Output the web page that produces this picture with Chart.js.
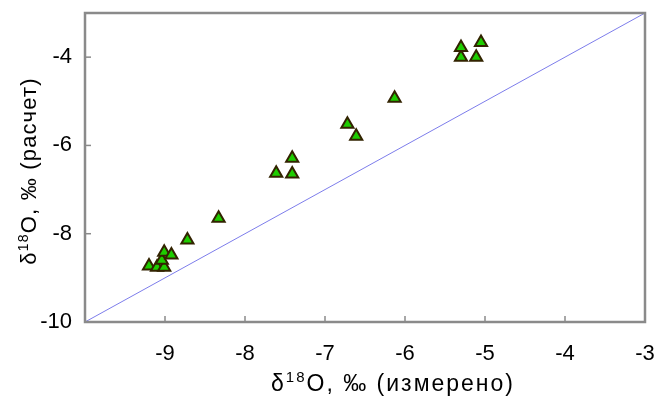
<!DOCTYPE html>
<html>
<head>
<meta charset="utf-8">
<script src="https://cdn.jsdelivr.net/npm/chart.js@4/dist/chart.umd.min.js"></script>
<style>
  html, body { margin: 0; padding: 0; background: #fff; }
  #wrap { width: 654px; height: 396px; }
</style>
</head>
<body>
<div id="wrap"><canvas id="myChart"></canvas></div>
<script>
// measured vs calculated δ18O, ‰
const measured = [-9.20, -9.10, -9.01, -9.04, -9.01, -8.92, -8.72, -8.33,
  -7.61, -7.41, -7.41, -6.72, -6.61, -6.13, -5.30, -5.30, -5.11, -5.05];
const calculated = [-8.73, -8.76, -8.76, -8.60, -8.42, -8.48, -8.14, -7.65,
  -6.63, -6.65, -6.29, -5.52, -5.79, -4.93, -4.00, -3.78, -4.00, -3.67];
const oneToOne = [-10, -3];

// axis titles: [before superscript, superscript, after]
const xTitle = ["δ", "18", "O, ‰ (измерено)"];
const yTitle = ["δ", "18", "O, ‰ (расчет)"];

let points = measured.map((v, i) => ({ x: v, y: calculated[i] }));
let line = oneToOne.map((v) => ({ x: v, y: v }));

const FAMILY = "Liberation Sans, Arial, sans-serif";

function drawTitle(ctx, parts, size, spacing) {
  // draws centred at the origin, baseline at y = 0
  let big = size + "px " + FAMILY;
  let small = Math.round(size * 0.65) + "px " + FAMILY;
  ctx.letterSpacing = spacing + "px";
  ctx.font = big;
  let w0 = ctx.measureText(parts[0]).width;
  let w2 = ctx.measureText(parts[2]).width;
  ctx.font = small;
  let w1 = ctx.measureText(parts[1]).width;
  let x = -(w0 + w1 + w2) / 2;
  ctx.textAlign = "left";
  ctx.textBaseline = "alphabetic";
  ctx.fillStyle = "#000";
  ctx.font = big;
  ctx.fillText(parts[0], x, 0);
  ctx.font = small;
  ctx.fillText(parts[1], x + w0, -size * 0.38);
  ctx.font = big;
  ctx.fillText(parts[2], x + w0 + w1, 0);
}

// frame, inner tick marks and axis titles
const framePlugin = {
  id: "frame",
  afterDraw(chart) {
    let ctx = chart.ctx;
    let a = chart.chartArea;
    let xs = chart.scales.x;
    let ys = chart.scales.y;
    ctx.save();
    ctx.strokeStyle = "#8a8a8a";
    ctx.lineWidth = 1.5;
    xs.ticks.forEach((t) => {
      let px = xs.getPixelForValue(t.value);
      if (px <= a.left + 1 || px >= a.right - 1) return;
      ctx.beginPath();
      ctx.moveTo(px, a.bottom);
      ctx.lineTo(px, a.bottom - 6);
      ctx.stroke();
    });
    ys.ticks.forEach((t) => {
      let py = ys.getPixelForValue(t.value);
      if (py <= a.top + 1 || py >= a.bottom - 1) return;
      ctx.beginPath();
      ctx.moveTo(a.left, py);
      ctx.lineTo(a.left + 6, py);
      ctx.stroke();
    });
    ctx.lineWidth = 2.5;
    ctx.strokeRect(a.left, a.top, a.right - a.left, a.bottom - a.top);
    ctx.restore();

    ctx.save();
    ctx.translate(393, 391);
    drawTitle(ctx, xTitle, 23, 2);
    ctx.restore();

    ctx.save();
    ctx.translate(36, 171);
    ctx.rotate(-Math.PI / 2);
    drawTitle(ctx, yTitle, 22, 1.2);
    ctx.restore();
  },
};

const tickFont = { family: FAMILY, size: 22 };

new Chart(document.getElementById("myChart").getContext("2d"), {
  type: "scatter",
  data: {
    datasets: [
      {
        type: "line",
        data: line,
        borderColor: "rgb(125, 125, 235)",
        borderWidth: 1,
        pointRadius: 0,
        fill: false,
        order: 2,
      },
      {
        data: points,
        pointStyle: "triangle",
        pointRadius: 7,
        backgroundColor: "rgb(30, 205, 0)",
        borderColor: "rgb(50, 35, 0)",
        borderWidth: 2,
        order: 1,
      },
    ],
  },
  plugins: [framePlugin],
  options: {
    responsive: true,
    maintainAspectRatio: false,
    animation: false,
    layout: { padding: { top: 13, right: 0, left: 0, bottom: 0 } },
    plugins: { legend: { display: false }, tooltip: { enabled: false } },
    scales: {
      x: {
        type: "linear",
        min: -10,
        max: -3,
        grid: { display: false, drawTicks: false },
        border: { display: false },
        ticks: { stepSize: 1, color: "#000", font: tickFont, padding: 19 },
        afterBuildTicks: (s) => {
          s.ticks = s.ticks.filter((t) => t.value !== -10);
        },
        afterFit: (s) => {
          s.height = 74;
          s.paddingLeft = 0;
          s.paddingRight = 9;
        },
      },
      y: {
        type: "linear",
        min: -10,
        max: -3,
        grid: { display: false, drawTicks: false },
        border: { display: false },
        ticks: { stepSize: 2, color: "#000", font: tickFont, padding: 13 },
        afterBuildTicks: (s) => {
          s.ticks = s.ticks.filter((t) => t.value !== -3);
        },
        afterFit: (s) => {
          s.width = 85;
          s.paddingTop = 0;
          s.paddingBottom = 0;
        },
      },
    },
  },
});
</script>
</body>
</html>
